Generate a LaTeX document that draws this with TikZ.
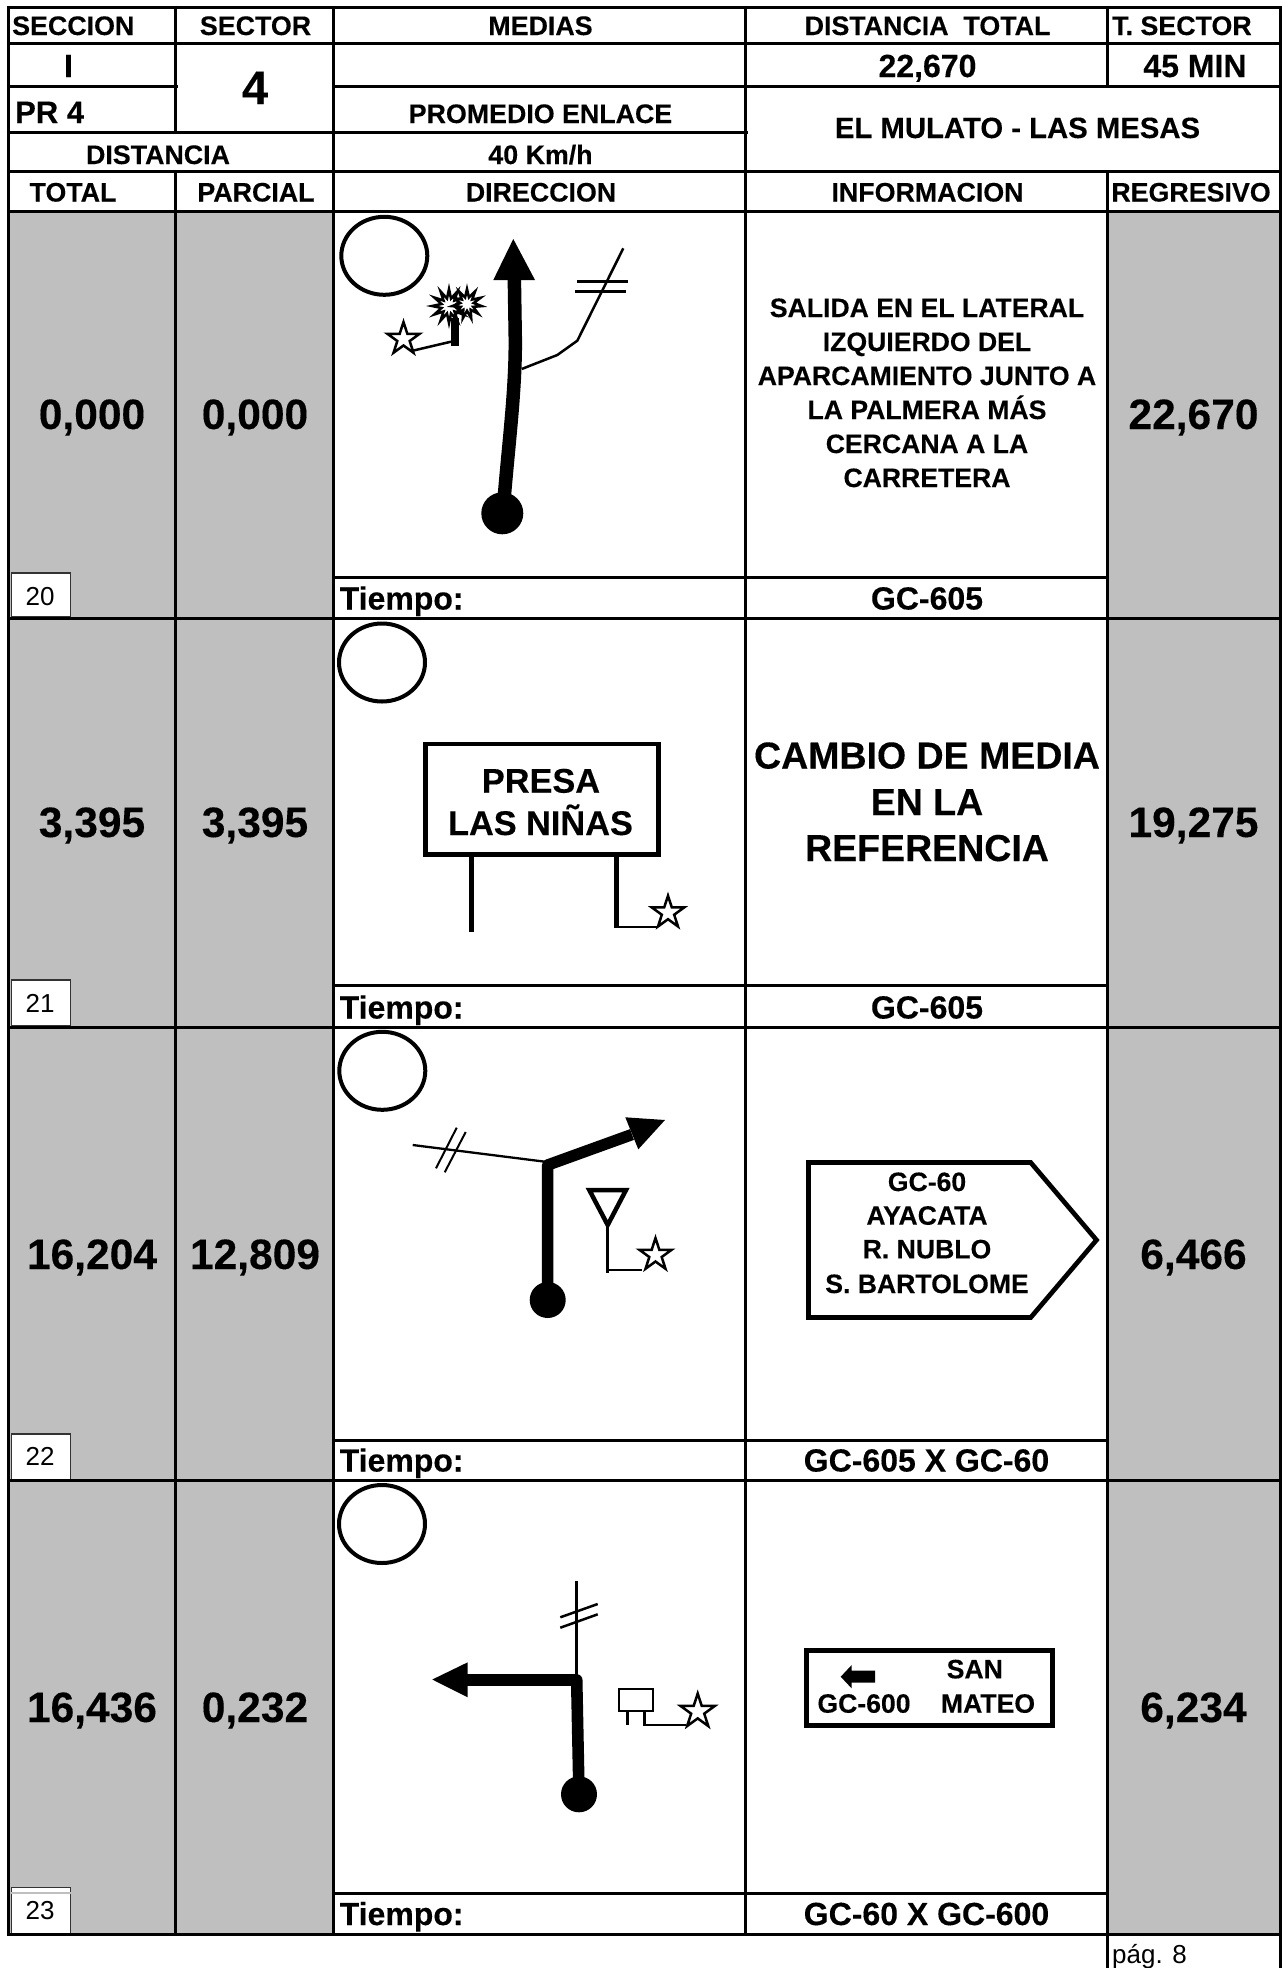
\documentclass[tikz,border=0pt]{standalone}
\usepackage{fontspec}
\setmainfont{Liberation Sans}[BoldFeatures={FakeBold=0.25}]
\usetikzlibrary{shapes.geometric}
\definecolor{cellgray}{HTML}{BFBFBF}
\definecolor{boxline}{HTML}{333333}
\newcommand{\fs}[1]{\fontsize{#1}{#1}\selectfont}
\tikzset{
  grid/.style={line width=3pt,black},
  bt/.style={anchor=base,inner sep=0pt,font=\bfseries},
  lt/.style={anchor=base west,inner sep=0pt,font=\bfseries},
  hdr/.style={bt,font=\bfseries\fs{26.8}},
  big/.style={bt,font=\bfseries\fs{42.5}},
  info/.style={bt,font=\bfseries\fs{26.6}},
  road/.style={line width=13pt,black},
  thin/.style={line width=2.5pt,black},
  circ/.style={draw=black,line width=4pt,ellipse,minimum width=86pt,minimum height=78pt,inner sep=0pt},
  starm/.style={draw=black,fill=white,line width=2.5pt,star,star points=5,star point ratio=2.618,minimum size=34pt,inner sep=0pt},
  burst/.style={draw=black,fill=white,line width=2.5pt,star,star point ratio=2.2,inner sep=0pt},
  numbox/.style={draw=boxline,fill=white,line width=1.8pt},
  dotm/.style={circle,fill=black,inner sep=0pt},
  signb/.style={draw=black,line width=4.7pt,fill=white,line join=miter}
}
\begin{document}
\begin{tikzpicture}[x=1pt,y=-1pt]
\useasboundingbox (0,0) rectangle (1282,1968);
\fill[white] (0,0) rectangle (1282,1968);
% gray columns
\fill[cellgray] (8,211) rectangle (333,1934);
\fill[cellgray] (1107,211) rectangle (1280,1934);
% number boxes
\draw[numbox] (11.5,572.7) rectangle (70.5,617);
\draw[numbox] (11.5,980) rectangle (70.5,1026);
\draw[numbox] (11.5,1434.3) rectangle (70.5,1480);
\draw[numbox] (11.5,1887.5) rectangle (70.5,1934);
\draw[cellgray,line width=1.5pt] (10,1893) -- (72,1893);
% grid
\foreach \y in {7,43,171,211,618,1027,1480,1934} \draw[grid] (6.5,\y) -- (1281.5,\y);
\draw[grid] (6.5,86) -- (178,86);
\draw[grid] (333,86) -- (1281.5,86);
\draw[grid] (6.5,132) -- (748,132);
\foreach \y in {577,985,1440,1893} \draw[grid] (333,\y) -- (1107,\y);
\draw[grid] (8,5.5) -- (8,1935.5);
\draw[grid] (175.5,5.5) -- (175.5,132);
\draw[grid] (175.5,171) -- (175.5,1934);
\draw[grid] (333,5.5) -- (333,1934);
\draw[grid] (745,5.5) -- (745,1934);
\draw[grid] (1107,5.5) -- (1107,86);
\draw[grid] (1107,171) -- (1107,1968);
\draw[grid] (1280,5.5) -- (1280,1968);
% header text
\node[lt,font=\bfseries\fs{26.8}] (h1) at (12,35) {SECCION};
\node[hdr] (h2) at (255.5,35) {SECTOR};
\node[hdr] (h3) at (540.5,35) {MEDIAS};
\node[hdr] (h4) at (927.5,35) {DISTANCIA \ TOTAL};
\node[lt,font=\bfseries\fs{26.8}] (h5) at (1112,35) {T. SECTOR};
\node[bt,font=\bfseries\fs{32}] (v1) at (68.5,77) {I};
\node[bt,font=\bfseries\fs{47}] (v2) at (255,104) {4};
\node[bt,font=\bfseries\fs{32}] (v3) at (927.5,77) {22,670};
\node[bt,font=\bfseries\fs{32}] (v4) at (1195,77) {45 MIN};
\node[lt,font=\bfseries\fs{31}] (v5) at (15,123) {PR 4};
\node[hdr] (v6) at (540.5,123) {PROMEDIO ENLACE};
\node[bt,font=\bfseries\fs{29.3}] (v7) at (1017.5,138) {EL MULATO - LAS MESAS};
\node[hdr] (v8) at (158,164) {DISTANCIA};
\node[hdr] (v9) at (540.5,164) {40 Km/h};
\node[hdr] (c1) at (73,201.5) {TOTAL};
\node[hdr] (c2) at (256,201.5) {PARCIAL};
\node[hdr] (c3) at (541,201.5) {DIRECCION};
\node[hdr] (c4) at (927.5,201.5) {INFORMACION};
\node[hdr] (c5) at (1191,201.5) {REGRESIVO};
% big numbers
\node[big] (a1) at (92,429) {0,000};
\node[big] (b1) at (255,429) {0,000};
\node[big] (r1) at (1193.5,429) {22,670};
\node[big] (a2) at (92,837) {3,395};
\node[big] (b2) at (255,837) {3,395};
\node[big] (r2) at (1193.5,837) {19,275};
\node[big] (a3) at (92,1269) {16,204};
\node[big] (b3) at (255,1269) {12,809};
\node[big] (r3) at (1193.5,1269) {6,466};
\node[big] (a4) at (92,1722) {16,436};
\node[big] (b4) at (255,1722) {0,232};
\node[big] (r4) at (1193.5,1722) {6,234};
% number labels
\node[anchor=base,inner sep=0pt,font=\fs{26}] (n1) at (40.2,605) {20};
\node[anchor=base,inner sep=0pt,font=\fs{26}] (n2) at (40.2,1012) {21};
\node[anchor=base,inner sep=0pt,font=\fs{26}] (n3) at (40.2,1465.7) {22};
\node[anchor=base,inner sep=0pt,font=\fs{26}] (n4) at (40.2,1919) {23};
% tiempo
\foreach \y/\n in {609.5/1,1018.5/2,1471.5/3,1925/4}
  \node[lt,font=\bfseries\fs{32}] (t\n) at (339.5,\y) {Tiempo:};
\node[bt,font=\bfseries\fs{32}] (g1) at (927,609.5) {GC-605};
\node[bt,font=\bfseries\fs{32}] (g2) at (927,1018.5) {GC-605};
\node[bt,font=\bfseries\fs{32}] (g3) at (926.5,1471.5) {GC-605 X GC-60};
\node[bt,font=\bfseries\fs{32}] (g4) at (926.5,1925) {GC-60 X GC-600};
% info row 1
\node[info] (i1) at (927,317) {SALIDA EN EL LATERAL};
\node[info] (i2) at (927,351) {IZQUIERDO DEL};
\node[info] (i3) at (927,385) {APARCAMIENTO JUNTO A};
\node[info] (i4) at (927,419) {LA PALMERA MÁS};
\node[info] (i5) at (927,453) {CERCANA A LA};
\node[info] (i6) at (927,487) {CARRETERA};
% info row 2
\node[bt,font=\bfseries\fs{37.5}] (j1) at (927,768.5) {CAMBIO DE MEDIA};
\node[bt,font=\bfseries\fs{37.5}] (j2) at (927,815) {EN LA};
\node[bt,font=\bfseries\fs{37.5}] (j3) at (927,861) {REFERENCIA};
% circles
\node[circ] (k1) at (384.3,255.8) {};
\node[circ] (k2) at (382,662.5) {};
\node[circ] (k3) at (382.3,1070.8) {};
\node[circ] (k4) at (382,1524) {};
% row 1 drawing
\coordinate (r1a) at (504,500);
\coordinate (r1b) at (514.3,276);
\draw[road,line width=13.5pt] (r1a) .. controls (509,440) and (515.5,390) .. (515.3,340) -- (r1b);
\fill[black] (513.3,239) -- (535,280) -- (493.3,280) -- cycle;
\node[dotm,minimum size=42pt] (d1) at (502.3,513.3) {};
\coordinate (s1) at (521.7,369);
\coordinate (s2) at (623.3,248.3);
\draw[thin] (s1) -- (557.3,355) -- (577.3,340.7) -- (s2);
\draw[line width=2.7pt] (577,281.3) -- (627.7,281.3);
\draw[line width=2.7pt] (575,291.3) -- (626,291.3);
\coordinate (p1) at (455,345.7);
\coordinate (p2) at (455,318);
\draw[line width=8pt] (p1) -- (p2);
\node[burst,star points=12,minimum size=34pt] (pb1) at (449,306) {};
\node[burst,star points=11,minimum size=30pt] (pb2) at (467,304) {};
\node[starm] (st1) at (403.5,339) {};
\draw[thin] (st1.center) ++(10,11.5) -- (451,341.7);
% row 2 drawing
\node[signb,minimum width=233pt,minimum height=110.3pt,inner sep=0pt] (sg2) at (542.2,799.2) {};
\node[bt,font=\bfseries\fs{34.3}] (sg2a) at (541,792.7) {PRESA};
\node[bt,font=\bfseries\fs{34.3}] (sg2b) at (540.5,835) {LAS NIÑAS};
\coordinate (pl) at (471.3,931.7);
\coordinate (pr) at (616.7,928.3);
\draw[line width=4.7pt] (471.3,856) -- (pl);
\draw[line width=4.7pt] (616.7,856) -- (pr);
\node[starm] (st2) at (668,912.7) {};
\draw[thin] (615,927) -- (657,927);
% row 3 drawing
\coordinate (r3a) at (547.7,1300);
\coordinate (r3b) at (547.7,1165);
\coordinate (r3c) at (632,1134.5);
\draw[road,line width=11.5pt,line join=round] (r3a) -- (r3b) -- (r3c);
\fill[black] (665,1120) -- (625.3,1117.3) -- (638.3,1149.3) -- cycle;
\node[dotm,minimum size=36pt] (d3) at (547.7,1300) {};
\draw[thin,line width=2.3pt] (412.7,1145) -- (545,1161.7);
\draw[line width=2pt] (456.7,1127.7) -- (436,1168.3);
\draw[line width=2pt] (465.7,1132) -- (444.7,1172.3);
\draw[line width=4.5pt] (589.3,1190) -- (626,1190) -- (607.7,1225) -- cycle;
\draw[line width=3.5pt] (607.7,1225) -- (607.7,1272.7);
\draw[line width=2.7pt] (607.7,1270) -- (641.7,1270);
\node[starm] (st3) at (655.5,1255) {};
% sign row 3
\draw[signb] (808.5,1162.5) -- (1030.7,1162.5) -- (1096.5,1240) -- (1030.7,1317.5) -- (808.5,1317.5) -- cycle;
\node[info] (s31) at (927,1191) {GC-60};
\node[info] (s32) at (927,1224.7) {AYACATA};
\node[info] (s33) at (927,1258.3) {R. NUBLO};
\node[info] (s34) at (927,1293) {S. BARTOLOME};
% row 4 drawing
\coordinate (r4a) at (579,1794);
\coordinate (r4b) at (576.7,1680);
\coordinate (r4c) at (465,1680);
\draw[road,line width=11.6pt,line join=round] (r4a) -- (r4b) -- (r4c);
\fill[black] (432.3,1679.5) -- (467.7,1662.3) -- (467.7,1697.3) -- cycle;
\node[dotm,minimum size=36pt] (d4) at (579,1794.3) {};
\draw[thin] (576.3,1581) -- (576.3,1675);
\draw[thin] (560.3,1617.3) -- (597.7,1604);
\draw[thin] (560.3,1627.7) -- (597.7,1614.3);
\draw[line width=2.3pt] (618.7,1689.3) rectangle (653.3,1710.7);
\draw[line width=3pt] (627.3,1710.7) -- (627.3,1724.7);
\draw[line width=3pt] (644.3,1710.7) -- (644.3,1725);
\draw[line width=2.7pt] (643,1725) -- (686,1725);
\node[starm,minimum size=36pt] (st4) at (697.7,1711.5) {};
% sign row 4
\draw[signb] (806.4,1650.7) rectangle (1052.6,1725.7);
\fill[black] (840.7,1676.7) -- (851.7,1665) -- (851.7,1670.7) -- (875,1670.7) -- (875,1682.7) -- (851.7,1682.7) -- (851.7,1688.4) -- cycle;
\node[info] (s41) at (974.8,1678.3) {SAN};
\node[info] (s42) at (864,1712.7) {GC-600};
\node[info] (s43) at (988,1712.7) {MATEO};
% page
\node[anchor=base west,inner sep=0pt,font=\fs{26}] (pg) at (1112,1963) {pág. 8};
\end{tikzpicture}
\end{document}
